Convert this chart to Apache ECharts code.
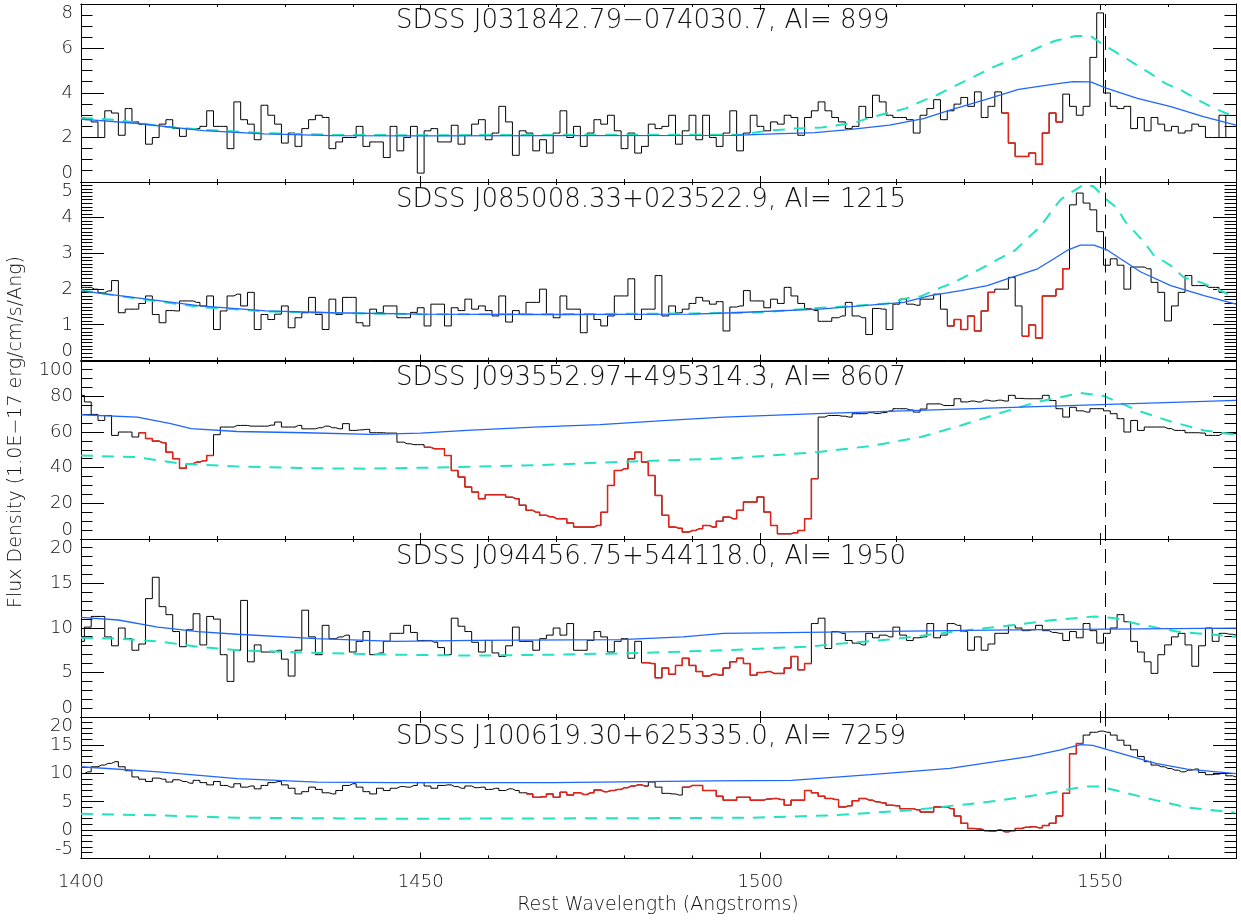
<!DOCTYPE html>
<html><head><meta charset="utf-8">
<script src="https://cdn.jsdelivr.net/npm/echarts@6/dist/echarts.min.js"></script>
<style>html,body{margin:0;padding:0;background:#fff}#wrap{position:relative;width:1241px;height:920px;overflow:hidden}#wrap>div{position:absolute;left:0}</style>
</head><body><div id="wrap"></div>
<script>
// ---- sampling grid (1 Angstrom bins, 1400..1570) ----
const WAVE_START = 1400;
const WAVE_STEP = 1;
const X_MIN = 1400, X_MAX = 1570;
const xTickLabels = [1400, 1450, 1500, 1550];
const civLine = 1550.77;
const titles = [
  'SDSS J031842.79\u2212074030.7, AI= 899',
  'SDSS J085008.33+023522.9, AI= 1215',
  'SDSS J093552.97+495314.3, AI= 8607',
  'SDSS J094456.75+544118.0, AI= 1950',
  'SDSS J100619.30+625335.0, AI= 7259'
];
const yMin = [0, 0, 0, 0, -5];
const yMax = [8, 5, 100, 20, 20];
const yStep = [2, 1, 20, 5, 5];
const yMinorSplit = [4, 10, 4, 5, 5];

// ---- panel 1 ----
const p1Black = [
2.9,2.8,2.7,2.0,3.2,3.1,2.1,3.3,2.7,2.6,
1.7,2.0,2.6,2.8,2.4,2.05,2.4,2.4,2.5,3.2,
2.5,2.5,1.5,3.6,2.8,2.6,1.9,3.45,3.0,2.6,
1.75,2.2,1.6,2.4,2.8,3.0,2.9,1.5,1.8,2.0,
2.0,2.5,1.6,1.8,1.8,1.1,2.5,1.4,2.0,2.5,
0.4,2.3,2.4,1.8,1.8,2.55,1.7,2.1,2.6,2.8,
1.9,2.2,3.4,2.7,1.2,2.3,2.2,1.4,1.9,1.3,
2.2,3.2,2.0,2.5,1.6,2.2,2.8,2.6,3.0,2.3,
1.5,2.2,1.3,1.6,2.6,2.4,2.5,3.0,1.7,2.3,
3.0,1.9,3.0,2.0,1.6,2.2,3.2,1.4,2.2,3.0,
2.5,2.3,2.7,2.6,3.0,2.9,2.1,2.9,3.2,3.6,
3.2,2.9,2.7,2.4,2.5,3.4,2.9,3.9,3.6,3.0,
2.9,2.9,2.8,2.2,3.0,3.3,3.7,2.8,3.2,3.5,
3.8,3.4,4.05,2.9,3.4,4.05,3.1,1.75,1.15,1.15,
1.3,0.8,2.2,3.1,2.7,3.95,3.4,3.0,3.4,5.6,
7.6,4.0,3.4,3.3,3.4,2.4,2.9,2.3,2.9,2.6,
2.3,2.5,2.2,2.3,2.6,2.5,2.0,2.0,3.0,2.0,
2.0];
const p1Red = [[1536, 1544]];
const p1Blue = [[1400,2.83],[1408,2.64],[1418,2.31],[1427,2.16],[1437,2.08],[1450,2.07],[1470,2.08],[1496,2.1],[1501,2.15],[1508,2.22],[1513,2.35],[1519,2.56],[1524,2.85],[1528,3.24],[1533,3.69],[1538,4.16],[1543,4.39],[1546,4.51],[1548.6,4.5],[1551,4.21],[1555.5,3.76],[1560.4,3.39],[1565.2,2.94],[1570,2.56]];
const p1Cyan = [[1400,2.88],[1405,2.8],[1412,2.49],[1418,2.35],[1427,2.2],[1437,2.12],[1450,2.1],[1470,2.12],[1497,2.12],[1501,2.3],[1505,2.4],[1509,2.45],[1513.7,2.65],[1516.2,2.9],[1518.7,3.1],[1521.4,3.31],[1523.6,3.61],[1526,3.91],[1528.4,4.28],[1530.2,4.55],[1532.4,4.88],[1534.6,5.21],[1537.1,5.51],[1538.7,5.71],[1541.2,6.08],[1543.4,6.35],[1546.4,6.56],[1548.6,6.56],[1550.5,6.16],[1553,5.71],[1555,5.33],[1557.4,4.88],[1559.6,4.43],[1561.9,4.13],[1564.4,3.69],[1566.8,3.31],[1569.2,3.01],[1570,2.95]];

// ---- panel 2 ----
const p2Black = [
2.05,2.05,2.0,1.9,1.95,2.24,1.34,1.44,1.44,1.6,
1.81,1.29,1.06,1.4,1.39,1.67,1.67,1.63,1.53,1.81,
0.87,1.39,1.81,1.86,1.53,1.91,0.87,1.29,1.15,1.3,
1.53,0.92,1.2,1.34,1.77,1.29,0.87,1.72,1.29,1.77,
1.77,1.06,0.97,1.44,1.34,1.53,1.53,1.2,1.2,1.35,
1.48,0.97,1.58,1.58,0.97,1.48,1.4,1.72,1.44,1.53,
1.4,1.25,1.81,1.08,1.4,1.3,1.63,1.63,2.0,1.3,
1.2,1.81,1.44,1.44,0.78,1.3,1.15,0.97,1.25,1.81,
1.81,2.29,1.15,1.44,1.44,2.38,1.25,1.53,1.34,1.44,
1.6,1.77,1.67,1.58,1.65,0.83,1.5,1.53,1.96,1.67,
1.67,1.48,1.72,1.6,2.05,1.81,1.6,1.45,1.4,1.1,
1.1,1.2,1.25,1.63,1.25,1.2,0.73,1.46,1.44,0.87,
1.58,1.72,1.58,1.55,1.72,1.72,1.86,1.44,0.97,1.15,
0.87,1.25,0.83,1.39,1.91,2.0,2.0,2.33,1.53,0.68,
1.0,0.63,1.81,1.81,2.0,2.57,4.36,4.69,4.41,4.22,
3.61,2.67,2.85,2.67,2.0,2.62,2.62,2.57,2.19,1.91,
1.11,1.53,1.91,2.38,2.1,2.1,2.05,2.05,1.91,1.91,
1.91];
const p2Red = [[1528, 1534], [1539, 1545]];
const p2Blue = [[1400,1.95],[1407.7,1.77],[1417.5,1.53],[1427.2,1.39],[1437,1.34],[1450,1.3],[1470,1.29],[1490,1.3],[1496,1.34],[1508.8,1.44],[1521.1,1.63],[1525,1.82],[1529.5,1.96],[1533.4,2.1],[1536.3,2.29],[1540.8,2.57],[1543.2,2.85],[1545.2,3.09],[1547.1,3.23],[1549.1,3.23],[1551.1,3.09],[1553,2.85],[1556,2.48],[1560.4,2.1],[1565.3,1.82],[1570,1.58]];
const p2Cyan = [[1400,1.97],[1407.7,1.75],[1417.5,1.5],[1427,1.38],[1437,1.33],[1450,1.3],[1470,1.3],[1490,1.32],[1500,1.35],[1508.8,1.48],[1513,1.52],[1518.7,1.6],[1521.4,1.74],[1523.6,1.8],[1526.6,2.05],[1528.5,2.19],[1530.4,2.38],[1532.4,2.57],[1535.6,2.9],[1537.5,3.09],[1539.3,3.42],[1541.2,3.75],[1543,4.22],[1544.2,4.51],[1545.6,4.69],[1547.6,4.93],[1549,4.88],[1551,4.5],[1552.5,4.27],[1553.7,3.89],[1556.4,3.33],[1557.9,2.95],[1560.4,2.66],[1562.3,2.33],[1564.8,2.19],[1567.3,2.0],[1569.7,1.77],[1570,1.75]];

// ---- panel 3 ----
const p3Black = [
80.7,77,70,66.6,69.4,58.2,60.1,60.1,57.3,59.7,
56.4,55,54.1,48.8,45.1,39.8,42.3,43.2,44,46.9,
58.6,62.9,62.9,63.8,63.8,63.4,63.4,63.4,64,65.7,
62.9,62.9,63.8,61.9,61.9,62.5,63.4,62.5,61.9,64.8,
61,61.3,61.6,59.7,59.7,59.5,59.5,54.4,53.5,53,
53,51.5,50.7,50.7,46.9,38.5,34.8,29.2,26.4,22.6,
24.9,24.9,24.9,23.5,22.6,19,16.1,15,13.3,12.5,
11.4,11.4,9,6.7,6.7,6.7,7.6,15,30.1,38.5,
39.5,45,48.8,43.2,35.7,24.5,13.3,6.7,6,3.9,
4.8,5.8,7.6,6.7,10,12.3,11.4,16.1,20.8,20.8,
23.6,15.1,7.6,2.9,2.9,3.5,4.8,11.4,33.9,68.5,
69.4,69.4,69,68.5,70.4,70.4,71,70.5,71,72,
73.2,73.2,72.5,71.3,73,75.9,75.9,75,75,78.8,
77,77.5,77,78,77.5,78,77.5,80.7,79,78.8,
78.8,78.8,80.7,77.8,73.2,68.5,74,72,71.3,73.2,
73.2,72,70.4,67.6,60.1,66.6,61,62.9,62.9,62.9,
62,61,61,59.7,59.7,59.5,58.2,58.2,59.2,59.2,
59.2];
const p3Red = [[1409, 1419], [1451, 1508]];
const p3Blue = [[1400,69.8],[1408.3,68.5],[1413.2,64.8],[1416.2,62],[1423,60.4],[1433,59.7],[1442.7,58.8],[1450,59.5],[1456.8,61],[1466.6,62.9],[1476.4,64.2],[1486.3,66.6],[1494.6,68.5],[1508.3,70.4],[1538.3,74.1],[1570,77.9]];
const p3Cyan = [[1400,46.9],[1408,46],[1414.8,42.3],[1423,40.8],[1433,39.8],[1442,39.5],[1450,40],[1466.6,41.4],[1481.3,43.6],[1496,45.4],[1508.3,48.8],[1516.2,52.2],[1523.6,57.3],[1529.5,63.8],[1535.4,70.9],[1540.7,76.9],[1547.1,82],[1550.6,80.3],[1555.5,72.2],[1560.4,66],[1565.3,61],[1570,58.6]];

// ---- panel 4 ----
const p4Black = [
8.5,10.1,11.3,11.3,9.0,8.0,10.0,8.8,7.5,8.2,
13.3,15.7,12.4,11.5,9.6,7.9,9.8,11.6,8.1,11.3,
11.0,7.0,4.0,7.5,13.1,6.2,8.1,7.3,7.3,7.5,
6.5,4.6,7.5,12.0,9.0,7.0,10.3,8.8,9.0,9.2,
7.3,8.5,9.6,7.0,7.2,8.5,9.4,9.4,10.3,9.5,
8.6,8.6,8.4,7.8,7.0,11.1,10.2,9.6,8.4,7.3,
8.6,7.2,6.8,8.0,10.1,8.5,8.5,7.5,8.8,9.2,
10.0,9.2,10.5,7.5,7.5,8.6,9.6,9.0,7.3,8.5,
8.8,6.6,8.5,6.1,6.0,4.4,5.5,4.8,5.8,6.6,
5.8,5.1,4.6,4.8,4.7,5.5,6.2,6.6,6.0,4.7,
5.0,5.1,4.9,4.9,5.5,6.8,5.3,6.0,10.5,11.1,
7.7,9.6,9.4,8.6,8.3,8.1,9.4,8.9,9.2,9.0,
10.1,9.2,8.6,8.9,9.0,10.5,8.9,9.2,10.5,10.3,
9.6,7.5,9.0,7.5,8.2,9.4,9.4,10.3,10.0,9.7,
9.8,10.3,9.7,9.5,9.4,8.6,9.6,8.9,10.5,9.7,
8.3,9.4,10.0,11.5,10.7,8.5,7.3,6.2,4.9,7.0,
8.1,9.0,9.4,8.1,5.7,8.0,10.0,8.5,9.4,9.3,
9.2];
const p4Red = [[1483, 1507]];
const p4Blue = [[1400,11.2],[1405.5,10.9],[1411.3,10.1],[1417.2,9.6],[1423,9.3],[1434.6,8.8],[1446.3,8.5],[1458,8.6],[1479.4,8.7],[1488.6,9.0],[1494.6,9.4],[1506.7,9.5],[1537,9.8],[1570,9.98]];
const p4Cyan = [[1400,8.9],[1405.5,8.8],[1411.3,8.5],[1417.2,7.9],[1423,7.5],[1434.6,7.2],[1446.3,7.0],[1458,6.9],[1470,7.0],[1482.5,7.2],[1494.6,7.5],[1506.7,7.9],[1518.9,8.7],[1531,9.8],[1537,10.3],[1543.1,10.9],[1549.2,11.3],[1552.2,11.1],[1555.2,10.5],[1561.3,9.6],[1567.3,9.2],[1570,9.0]];

// ---- panel 5 ----
const p5Black = [
10.0,10.3,11.2,11.5,11.8,12.1,11.2,10.5,9.4,9.0,
8.6,9.2,9.0,8.5,8.9,8.6,8.3,8.8,8.4,8.0,
8.6,7.9,7.6,8.2,7.6,7.8,7.3,7.9,8.4,8.6,
8.0,7.4,6.4,6.8,7.6,7.2,6.6,6.4,7.0,7.9,
8.2,7.6,6.8,6.4,7.4,7.0,7.4,7.7,7.6,7.9,
8.4,7.8,7.4,7.9,8.0,7.7,7.4,7.8,7.5,7.6,
7.2,7.4,7.0,7.3,7.0,6.6,6.4,5.8,5.9,6.4,
5.8,6.7,6.2,6.6,6.3,6.6,7.1,6.8,7.0,7.2,
7.5,7.8,8.0,7.8,8.5,7.6,6.5,6.4,6.2,7.6,
7.9,7.9,7.0,7.0,6.0,5.3,5.3,5.8,5.8,5.3,
5.3,5.5,5.6,5.4,4.4,5.3,5.3,7.0,6.6,6.0,
5.6,5.4,4.1,4.3,5.2,5.6,5.3,5.0,4.8,4.4,
4.3,3.8,3.8,3.6,3.2,3.2,4.1,4.1,3.8,2.5,
1.2,0.3,0.2,-0.1,-0.2,0.0,-0.3,-0.1,0.3,0.5,
0.6,0.4,0.8,1.2,2.5,6.5,13.5,15.3,16.8,17.3,
17.5,17.3,16.8,15.9,15.0,14.2,13.0,12.1,11.5,11.2,
10.9,10.6,10.3,10.6,10.8,10.2,9.8,9.9,10.1,9.6,
9.4];
const p5Red = [[1466, 1483], [1489, 1547]];
const p5Blue = [[1400,11.2],[1411.4,10.3],[1423,9.1],[1434.7,8.5],[1446.3,8.4],[1469.6,8.4],[1492.9,8.7],[1504.6,8.8],[1516.2,9.8],[1527.9,10.9],[1539.5,13],[1544.2,14.2],[1547.1,15.1],[1548.9,15.0],[1551.2,14.2],[1554.7,13],[1558.2,11.8],[1562.8,10.8],[1570,10.0]];
const p5Cyan = [[1400,2.9],[1411.4,2.6],[1423,2.2],[1446,2.0],[1481,2.1],[1498.7,2.2],[1510.3,2.6],[1522,3.5],[1533.6,5.0],[1541.8,6.4],[1547.6,7.7],[1549.9,7.7],[1553.4,6.7],[1558.1,5.3],[1562.8,4.0],[1569.8,3.1]];

// ---- build ----
const blacks = [p1Black, p2Black, p3Black, p4Black, p5Black];
const reds = [p1Red, p2Red, p3Red, p4Red, p5Red];
const blues = [p1Blue, p2Blue, p3Blue, p4Blue, p5Blue];
const cyans = [p1Cyan, p2Cyan, p3Cyan, p4Cyan, p5Cyan];

function toPairs(vals) { return vals.map((v, i) => [WAVE_START + i * WAVE_STEP, v]); }
function redPairs(vals, ranges) {
  return vals.map((v, i) => {
    const w = WAVE_START + i * WAVE_STEP;
    return ranges.some(r => w >= r[0] && w <= r[1]) ? [w, v] : [w, null];
  });
}
// y-axis tick values (major every yStep, minor every yStep / yMinorSplit), from the axis settings
function yTicks(i) {
  const minor = yStep[i] / yMinorSplit[i];
  const n = Math.round((yMax[i] - yMin[i]) / minor);
  const out = [];
  for (let k = 0; k <= n; k++) out.push([X_MIN, +(yMin[i] + k * minor).toFixed(4), k % yMinorSplit[i] === 0 ? 1 : 0]);
  return out;
}

const FONT = 'DejaVu Sans';
const TXT = '#111';
const W = 1241, H = 920;
const PLOT_LEFT = 81, PLOT_RIGHT_EDGE = 1236;
const PAD = 12;
const MAJOR_LEN = 23, MINOR_LEN = 11.5;
const tops = [4, 182, 360.6, 538.6, 716.6];
const heights = [178, 178.6, 178, 178, 141.4];
const titleY = [21, 200, 378, 557, 737];
function axLine() { return { show: true, onZero: false, lineStyle: { color: '#000', width: 1 } }; }

const wrap = document.getElementById('wrap');
function addDiv(top, height, z) {
  const d = document.createElement('div');
  d.style.top = top + 'px'; d.style.width = W + 'px'; d.style.height = height + 'px'; d.style.zIndex = z;
  wrap.appendChild(d);
  return d;
}

// background layer: shared axis titles
const bg = echarts.init(addDiv(0, H, 0), null, { renderer: 'canvas' });
bg.setOption({
  animation: false, backgroundColor: '#fff',
  graphic: [
    { type: 'text', x: 658, y: 905,
      style: { text: 'Rest Wavelength (Angstroms)', font: '200 19px "DejaVu Sans"', fill: TXT,
        align: 'center', verticalAlign: 'middle', textAlign: 'center', textVerticalAlign: 'middle' } },
    { type: 'text', x: 16, y: 432, rotation: Math.PI / 2,
      style: { text: 'Flux Density (1.0E\u221217 erg/cm/s/Ang)', font: '200 19px "DejaVu Sans"', fill: TXT,
        align: 'center', verticalAlign: 'middle', textAlign: 'center', textVerticalAlign: 'middle' } }
  ]
});

// one chart instance per panel
for (let i = 0; i < 5; i++) {
  const last = i === 4;
  const divTop = tops[i] - PAD;
  const divH = heights[i] + PAD * 2 + (last ? 40 : 0);
  const chart = echarts.init(addDiv(divTop, divH, i + 1), null, { renderer: 'canvas' });
  const opt = {
    animation: false, backgroundColor: 'transparent',
    grid: [{ left: PLOT_LEFT, right: W - PLOT_RIGHT_EDGE, top: PAD, height: heights[i] }],
    xAxis: [], yAxis: [], series: [],
    graphic: [{ type: 'text', x: 396, y: titleY[i] - divTop,
      style: { text: titles[i], font: '200 26px "DejaVu Sans"', fill: TXT,
        align: 'left', verticalAlign: 'middle', textAlign: 'left', textVerticalAlign: 'middle' } }]
  };
  [
    { position: 'bottom', interval: 10, len: 3, labels: last },
    { position: 'top', interval: 10, len: 3, labels: false },
    { position: 'bottom', interval: 50, len: 6, labels: false },
    { position: 'top', interval: 50, len: 6, labels: false }
  ].forEach(s => {
    opt.xAxis.push({ gridIndex: 0, type: 'value', min: X_MIN, max: X_MAX, position: s.position, interval: s.interval,
      axisLine: axLine(), splitLine: { show: false },
      axisTick: { show: true, inside: true, length: s.len, lineStyle: { color: '#000', width: 1 } },
      axisLabel: s.labels ? { show: true, margin: 15, fontSize: 18, fontWeight: 200, color: TXT, fontFamily: FONT,
        formatter: v => (xTickLabels.indexOf(Math.round(v)) >= 0 ? String(Math.round(v)) : '') } : { show: false } });
  });
  ['left', 'right'].forEach(pos => {
    opt.yAxis.push({ gridIndex: 0, type: 'value', min: yMin[i], max: yMax[i], interval: yStep[i], position: pos,
      axisLine: axLine(), splitLine: { show: false }, axisTick: { show: false }, minorTick: { show: false },
      axisLabel: pos === 'left' ? { show: true, margin: 8, fontSize: 18, fontWeight: 200, color: TXT, fontFamily: FONT,
        verticalAlignMinLabel: 'bottom', verticalAlignMaxLabel: 'top' } : { show: false } });
  });

  // y tick marks on both vertical edges, placed through the y scale
  opt.series.push({ type: 'custom', xAxisIndex: 0, yAxisIndex: 0, silent: true, clip: false, z: 1,
    data: yTicks(i),
    renderItem: (params, api) => {
      const v = api.value(1), major = api.value(2) === 1;
      const len = major ? MAJOR_LEN : MINOR_LEN;
      const pl = api.coord([X_MIN, v]), pr = api.coord([X_MAX, v]);
      const y = Math.round(pl[1] - 0.5) + 0.5;
      return { type: 'group', children: [
        { type: 'line', shape: { x1: pl[0], y1: y, x2: pl[0] + len, y2: y }, style: { stroke: '#000', lineWidth: 1 } },
        { type: 'line', shape: { x1: pr[0] - len, y1: y, x2: pr[0], y2: y }, style: { stroke: '#000', lineWidth: 1 } }
      ] };
    } });

  const mlData = [{ xAxis: civLine }];
  if (yMin[i] < 0) mlData.push({ yAxis: 0, lineStyle: { type: 'solid', color: '#000', width: 1 } });
  opt.series.push({ type: 'line', xAxisIndex: 0, yAxisIndex: 0, data: toPairs(blacks[i]),
    step: 'middle', symbol: 'none', z: 2, lineStyle: { color: '#000', width: 1 },
    markLine: { silent: true, symbol: ['none', 'none'], label: { show: false }, animation: false,
      lineStyle: { color: '#000', width: 1, type: [14, 8] }, data: mlData } });
  opt.series.push({ type: 'line', xAxisIndex: 0, yAxisIndex: 0, data: redPairs(blacks[i], reds[i]),
    step: 'middle', symbol: 'none', z: 3, connectNulls: false, lineStyle: { color: '#e2231a', width: 1.5 } });
  opt.series.push({ type: 'line', xAxisIndex: 0, yAxisIndex: 0, data: cyans[i],
    symbol: 'none', z: 4, lineStyle: { color: '#21e3bf', width: 2, type: [12, 9] } });
  opt.series.push({ type: 'line', xAxisIndex: 0, yAxisIndex: 0, data: blues[i],
    symbol: 'none', z: 5, lineStyle: { color: '#1f66ff', width: 1.3 } });

  chart.setOption(opt);
}
</script>
</body></html>
